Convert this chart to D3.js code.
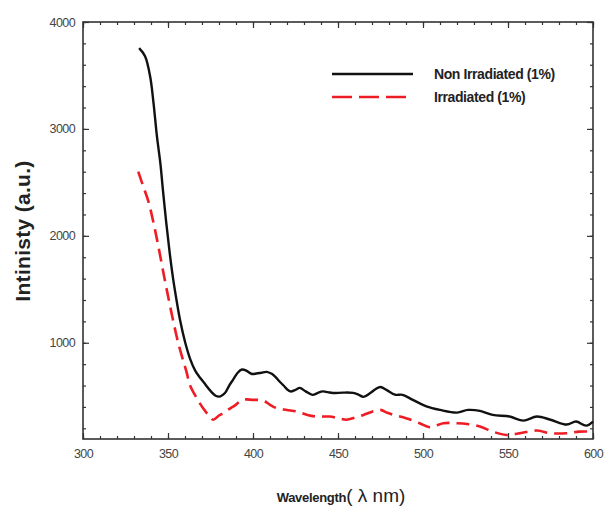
<!DOCTYPE html>
<html>
<head>
<meta charset="utf-8">
<script src="https://cdn.jsdelivr.net/npm/d3@7"></script>
<style>
  body { margin: 0; background: #fff; }
  text { font-family: "Liberation Sans", Arial, sans-serif; }
</style>
</head>
<body>
<div id="chart"></div>
<script>
var svgWidth = 606;
var svgHeight = 506;

// plot box in pixels
var plotLeft = 83, plotRight = 593, plotTop = 22, plotBottom = 439;

// data
var nonWave = [333, 336.5, 339.5, 341.5, 343.5, 345.5, 347, 349, 351, 353, 355, 357, 360, 363, 366, 369, 372, 375, 378, 380.5, 383.5, 386, 388.5, 391, 393.5, 396, 399, 402, 405, 408, 411, 413, 415.5, 418, 420, 422, 425, 427.5, 431, 435, 438, 441, 444, 447, 453, 459, 462, 465, 469, 472, 475, 478.5, 483.5, 488, 494, 502, 510, 520, 526.5, 533.5, 541, 551, 559, 567, 575, 584.5, 590, 596, 600];
var nonVal = [3755, 3680, 3490, 3240, 2930, 2680, 2430, 2120, 1840, 1600, 1400, 1220, 1010, 850, 740, 670, 610, 550, 505, 497, 530, 600, 660, 720, 750, 740, 710, 712, 720, 728, 710, 684, 640, 600, 565, 545, 560, 578, 545, 513, 530, 545, 538, 530, 534, 531, 515, 494, 530, 565, 587, 560, 515, 513, 466, 405, 372, 347, 372, 363, 325, 310, 272, 310, 280, 235, 263, 225, 263];

var irrWave = [332.5, 335.5, 338.5, 341.5, 344, 347, 351, 356, 361, 363, 367, 371, 374, 376.6, 380, 383, 386, 389, 394, 400, 406, 410, 414, 420, 426, 432, 437.5, 445, 450, 455, 460, 465, 470, 475, 479, 483, 490, 498, 504, 512, 520, 526, 533.5, 541, 549, 557, 567, 575, 584.5, 592, 600];
var irrVal = [2600, 2460, 2320, 2120, 1930, 1680, 1360, 1000, 720, 600, 480, 380, 320, 280, 320, 345, 380, 410, 466, 466, 460, 420, 388, 372, 356, 325, 310, 310, 295, 280, 300, 325, 355, 372, 345, 325, 295, 248, 210, 248, 248, 241, 216, 169, 138, 154, 179, 154, 154, 169, 169];

var xTicks = [300, 350, 400, 450, 500, 550, 600];
var yTicks = [1000, 2000, 3000, 4000];
var seriesNames = ["Non Irradiated (1%)", "Irradiated (1%)"];

var nonData = nonWave.map(function(w, i) { return { x: w, y: nonVal[i] }; });
var irrData = irrWave.map(function(w, i) { return { x: w, y: irrVal[i] }; });

var svg = d3.select("#chart").append("svg")
  .attr("width", svgWidth)
  .attr("height", svgHeight);

var xScale = d3.scaleLinear().domain([300, 600]).range([plotLeft, plotRight]);
var yScale = d3.scaleLinear().domain([100, 4000]).range([plotBottom, plotTop]);

var xMinor = d3.range(300, 601, 10);
var yMinor = d3.range(200, 4001, 200);

function styleAxis(g) {
  g.select(".domain").remove();
  g.selectAll("line").attr("stroke", "#333").attr("stroke-width", 1.2);
  g.selectAll("text")
    .attr("fill", "#444")
    .style("font-size", "12.5px")
    .style("letter-spacing", "-0.6px");
}

// minor ticks, all four sides, pointing in
svg.append("g").attr("transform", `translate(0,${plotBottom})`)
  .call(d3.axisBottom(xScale).tickValues(xMinor).tickSize(-3).tickFormat(""))
  .call(styleAxis);
svg.append("g").attr("transform", `translate(0,${plotTop})`)
  .call(d3.axisTop(xScale).tickValues(xMinor).tickSize(-3).tickFormat(""))
  .call(styleAxis);
svg.append("g").attr("transform", `translate(${plotLeft},0)`)
  .call(d3.axisLeft(yScale).tickValues(yMinor).tickSize(-3).tickFormat(""))
  .call(styleAxis);
svg.append("g").attr("transform", `translate(${plotRight},0)`)
  .call(d3.axisRight(yScale).tickValues(yMinor).tickSize(-3).tickFormat(""))
  .call(styleAxis);

// major ticks with labels
svg.append("g").attr("transform", `translate(0,${plotBottom})`)
  .call(d3.axisBottom(xScale).tickValues(xTicks).tickSize(-6).tickPadding(10).tickFormat(d3.format("d")))
  .call(styleAxis);
svg.append("g").attr("transform", `translate(0,${plotTop})`)
  .call(d3.axisTop(xScale).tickValues(xTicks).tickSize(-6).tickFormat(""))
  .call(styleAxis);
svg.append("g").attr("transform", `translate(${plotLeft},0)`)
  .call(d3.axisLeft(yScale).tickValues(yTicks).tickSize(-6).tickPadding(8).tickFormat(d3.format("d")))
  .call(styleAxis);
svg.append("g").attr("transform", `translate(${plotRight},0)`)
  .call(d3.axisRight(yScale).tickValues(yTicks).tickSize(-6).tickFormat(""))
  .call(styleAxis);

// frame
svg.append("rect")
  .attr("x", plotLeft).attr("y", plotTop)
  .attr("width", plotRight - plotLeft).attr("height", plotBottom - plotTop)
  .attr("fill", "none").attr("stroke", "#333").attr("stroke-width", 1.6);

var line = d3.line()
  .x(function(d) { return xScale(d.x); })
  .y(function(d) { return yScale(d.y); })
  .curve(d3.curveCatmullRom);

svg.append("path").datum(irrData)
  .attr("d", line)
  .attr("fill", "none")
  .attr("stroke", "#ee1c25")
  .attr("stroke-width", 2.6)
  .attr("stroke-dasharray", "13,7");

svg.append("path").datum(nonData)
  .attr("d", line)
  .attr("fill", "none")
  .attr("stroke", "#111")
  .attr("stroke-width", 2.4);

// legend
var legend = svg.append("g");
legend.append("line")
  .attr("x1", 332).attr("x2", 413).attr("y1", 74).attr("y2", 74)
  .attr("stroke", "#111").attr("stroke-width", 2.4);
legend.append("line")
  .attr("x1", 332).attr("x2", 413).attr("y1", 97).attr("y2", 97)
  .attr("stroke", "#ee1c25").attr("stroke-width", 2.6)
  .attr("stroke-dasharray", "20,7");
legend.selectAll(".legText")
  .data(seriesNames).enter().append("text")
  .attr("class", "legText")
  .attr("x", 434)
  .attr("y", function(d, i) { return 79 + i * 23; })
  .attr("fill", "#222")
  .style("font-size", "14px")
  .style("font-weight", "bold")
  .style("letter-spacing", "-0.4px")
  .text(function(d) { return d; });

// axis titles
svg.append("text")
  .attr("transform", "translate(30,231) rotate(-90)")
  .attr("text-anchor", "middle")
  .attr("fill", "#222")
  .style("font-size", "21px")
  .style("font-weight", "bold")
  .style("letter-spacing", "0.3px")
  .text("Intinisty (a.u.)");

var xt = svg.append("text")
  .attr("x", 341).attr("y", 502)
  .attr("text-anchor", "middle")
  .attr("fill", "#222");
xt.append("tspan").style("font-size", "13px").style("font-weight", "bold").style("letter-spacing", "-0.3px").text("Wavelength");
xt.append("tspan").style("font-size", "19px").text("( λ nm)");
</script>
</body>
</html>
